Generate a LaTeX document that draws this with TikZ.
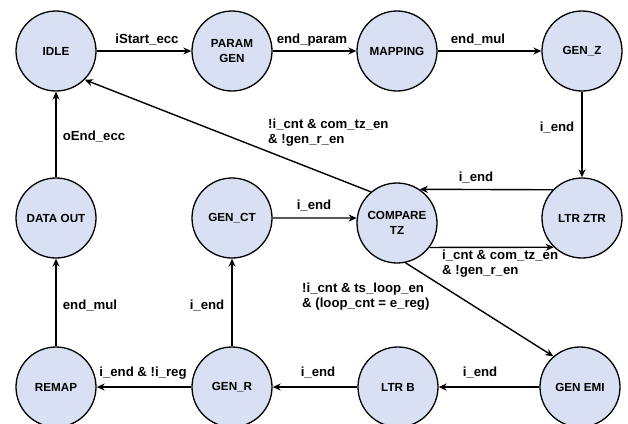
\documentclass[tikz,border=0pt]{standalone}
\usepackage{fontspec}
\setmainfont{Liberation Sans}
\usetikzlibrary{arrows.meta}
\definecolor{statefill}{RGB}{218,224,243}
\begin{document}
\begin{tikzpicture}[x=1pt,y=-1pt,
  state/.style={circle,draw=black,line width=1.3pt,fill=statefill,minimum size=80pt,inner sep=0pt,align=center,font=\fontsize{11.7}{15}\selectfont\bfseries},
  lbl/.style={inner sep=0pt,align=left,font=\fontsize{13.2}{15}\selectfont\bfseries},
  conn/.style={line width=1.4pt,-{Stealth[length=8pt,width=7pt,inset=2.5pt]}}]
\useasboundingbox (0,0) rectangle (628,423);
% states
\node[state] (idle)  at (56,51)   {IDLE};
\node[state] (param) at (232,51)  {PARAM\\GEN};
\node[state] (map)   at (397,51)  {MAPPING};
\node[state] (genz)  at (582,51)  {GEN\_Z};
\node[state] (dout)  at (56,218)  {DATA OUT};
\node[state] (genct) at (232,218) {GEN\_CT};
\node[state] (cmp)   at (397,223) {COMPARE\\TZ};
\node[state] (ltrz)  at (582,218) {LTR ZTR};
\node[state] (remap) at (56,387)  {REMAP};
\node[state] (genr)  at (232,387) {GEN\_R};
\node[state] (ltrb)  at (398,387) {LTR B};
\node[state] (emi)   at (580,387) {GEN EMI};
% connectors
\draw[conn] (idle) -- (param);
\draw[conn] (param) -- (map);
\draw[conn] (map) -- (genz);
\draw[conn] (genz) -- (ltrz);
\draw[conn] (ltrz.136) -- (cmp.56);
\draw[conn] (cmp.-37) -- (ltrz.226);
\draw[conn] (genct.east) -- (cmp.173);
\draw[conn] (cmp.130) -- (idle.-45);
\draw[conn] (dout) -- (idle);
\draw[conn] (cmp.-78) -- (emi.131);
\draw[conn] (emi) -- (ltrb);
\draw[conn] (ltrb) -- (genr);
\draw[conn] (genr) -- (remap);
\draw[conn] (genr) -- (genct);
\draw[conn] (remap) -- (dout);
% labels
\node[lbl] (l1) at (147,40) {iStart\_ecc};
\node[lbl] (l2) at (312,40) {end\_param};
\node[lbl] (l3) at (478,40) {end\_mul};
\node[lbl] (l4) at (557,128) {i\_end};
\node[lbl] (l5) at (94,137) {oEnd\_ecc};
\node[lbl] (l6) at (476,178) {i\_end};
\node[lbl] (l7) at (314,206) {i\_end};
\node[lbl,anchor=west] (l8) at (268,133) {!i\_cnt \& com\_tz\_en\\\& !gen\_r\_en};
\node[lbl,anchor=west] (l9) at (442,264) {i\_cnt \& com\_tz\_en\\\& !gen\_r\_en};
\node[lbl,anchor=west] (l10) at (302,297) {!i\_cnt \& ts\_loop\_en\\\& (loop\_cnt = e\_reg)};
\node[lbl] (l11) at (207,306) {i\_end};
\node[lbl] (l12) at (90,306) {end\_mul};
\node[lbl] (l13) at (143,373) {i\_end \& !i\_reg};
\node[lbl] (l14) at (318,373) {i\_end};
\node[lbl] (l15) at (480,373) {i\_end};
\end{tikzpicture}
\end{document}
